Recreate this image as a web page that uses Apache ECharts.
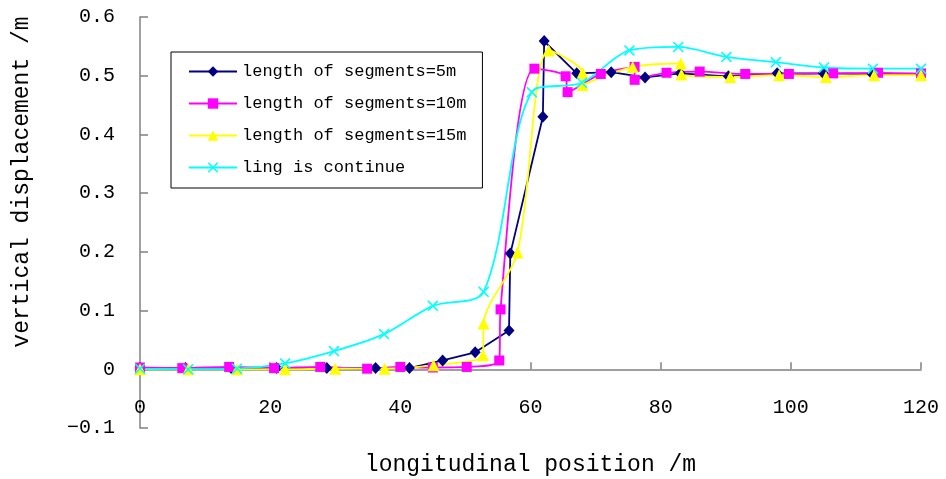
<!DOCTYPE html>
<html>
<head>
<meta charset="utf-8">
<script src="https://cdn.jsdelivr.net/npm/echarts@6/dist/echarts.min.js"></script>
<style>
  html, body { margin: 0; padding: 0; background: #fff; }
  #chart { width: 946px; height: 479px; }
</style>
</head>
<body>
<div id="chart"></div>
<script>
// length of segments = 5m
const seg5X = [0, 7, 14, 21, 28.7, 36.2, 41.4, 46.5, 51.5, 56.7, 56.9, 61.9, 62.1, 67.1, 72.4, 77.6, 83, 90.4, 97.9, 105, 112.5, 120]
const seg5Y = [0.002, 0.002, 0.002, 0.002, 0.002, 0.002, 0.002, 0.015, 0.029, 0.066, 0.197, 0.43, 0.559, 0.504, 0.506, 0.497, 0.504, 0.499, 0.504, 0.504, 0.503, 0.503]
// length of segments = 10m
const seg10X = [0, 6.5, 13.7, 20.6, 27.7, 34.9, 40, 45, 50.2, 55.2, 55.4, 60.6, 65.4, 65.7, 70.8, 76, 76, 80.9, 86, 93, 99.7, 106.5, 113.4, 120]
const seg10Y = [0.003, 0.002, 0.004, 0.002, 0.004, 0.001, 0.004, 0.003, 0.004, 0.015, 0.102, 0.512, 0.499, 0.472, 0.503, 0.515, 0.493, 0.505, 0.507, 0.503, 0.503, 0.504, 0.505, 0.504]
// length of segments = 15m
const seg15X = [0, 7.4, 14.9, 22.3, 30, 37.6, 45.1, 52.7, 52.8, 58, 62.8, 68, 68, 75.7, 83.1, 83.2, 90.7, 98.2, 105.4, 112.8, 120]
const seg15Y = [0, 0, 0, 0, 0.001, 0.001, 0.007, 0.024, 0.078, 0.199, 0.543, 0.505, 0.484, 0.515, 0.521, 0.502, 0.498, 0.501, 0.498, 0.501, 0.501]
// ling is continue
const contX = [0, 7.4, 14.9, 22.3, 29.8, 37.5, 45, 52.8, 60.2, 67.9, 75.2, 82.7, 90.1, 97.7, 105.1, 112.6, 120]
const contY = [0.001, 0, 0.001, 0.01, 0.031, 0.06, 0.108, 0.132, 0.472, 0.488, 0.543, 0.549, 0.532, 0.523, 0.514, 0.512, 0.512]

const xTicks = [0, 20, 40, 60, 80, 100, 120]
const yTicks = [-0.1, 0, 0.1, 0.2, 0.3, 0.4, 0.5, 0.6]

const FONT = '"Liberation Mono", "DejaVu Sans Mono", monospace'
const crossIcon = 'path://M0,1L1,0L5,4L9,0L10,1L6,5L10,9L9,10L5,6L1,10L0,9L4,5Z'

const pairs = (xs, ys) => xs.map((x, i) => [x, ys[i]])

function makeSeries(name, xs, ys, color, symbol, size, smooth) {
  return {
    name,
    type: 'line',
    data: pairs(xs, ys),
    smooth,
    symbol,
    symbolSize: size,
    showAllSymbol: true,
    lineStyle: { color, width: 1.8 },
    itemStyle: { color },
    emphasis: { disabled: true },
    animation: false
  }
}

const chart = echarts.init(document.getElementById('chart'))
const option = {
  backgroundColor: '#fff',
  animation: false,
  grid: { left: 140, right: 25, top: 17, bottom: 51, containLabel: false, outerBoundsMode: 'none' },
  legend: {
    orient: 'vertical',
    left: 171,
    top: 52,
    padding: [11, 16, 12, 17],
    itemWidth: 48,
    itemHeight: 13,
    itemGap: 15,
    borderColor: '#000',
    borderWidth: 1,
    textStyle: { fontFamily: FONT, fontSize: 17, color: '#000' },
    data: [
      'length of segments=5m',
      'length of segments=10m',
      'length of segments=15m',
      'ling is continue'
    ]
  },
  xAxis: {
    type: 'value',
    min: xTicks[0],
    max: xTicks[xTicks.length - 1],
    interval: xTicks[1] - xTicks[0],
    name: 'longitudinal position /m',
    nameLocation: 'middle',
    nameGap: 25,
    nameTextStyle: { fontFamily: FONT, fontSize: 23, color: '#000' },
    axisLine: { onZero: true, lineStyle: { color: '#808080', width: 1.5 } },
    axisTick: { inside: true, length: 7, lineStyle: { color: '#808080', width: 1.5 } },
    axisLabel: { margin: -30, fontFamily: FONT, fontSize: 20, color: '#000' },
    splitLine: { show: false }
  },
  yAxis: {
    type: 'value',
    min: yTicks[0],
    max: yTicks[yTicks.length - 1],
    interval: 0.1,
    axisLine: { show: true, lineStyle: { color: '#808080', width: 1.5 } },
    axisTick: { show: true, inside: true, length: 8, lineStyle: { color: '#808080', width: 1.5 } },
    axisLabel: {
      margin: 25,
      fontFamily: FONT,
      fontSize: 20,
      color: '#000',
      formatter: v => (Math.abs(v) < 1e-9 ? '0' : v.toFixed(1).replace('-', '\u2212'))
    },
    splitLine: { show: false }
  },
  graphic: [
    {
      type: 'text',
      x: 22,
      y: 182,
      rotation: Math.PI / 2,
      style: {
        text: 'vertical displacement /m',
        font: '23px ' + FONT,
        fill: '#000',
        align: 'center',
        verticalAlign: 'middle'
      }
    }
  ],
  series: [
    makeSeries('length of segments=5m', seg5X, seg5Y, '#000080', 'diamond', [11, 12], false),
    makeSeries('length of segments=10m', seg10X, seg10Y, '#ff00ff', 'rect', 10, 0.3),
    makeSeries('length of segments=15m', seg15X, seg15Y, '#ffff00', 'triangle', 12, 0.3),
    makeSeries('ling is continue', contX, contY, '#00ffff', crossIcon, 11, 0.3)
  ]
}
chart.setOption(option)
</script>
</body>
</html>
